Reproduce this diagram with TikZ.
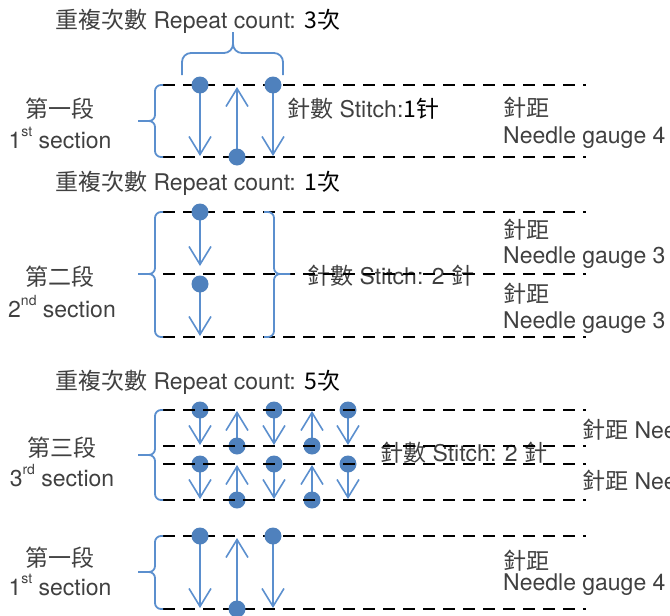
\documentclass[tikz,border=0pt]{standalone}
\usepackage{fontspec}
\setmainfont{TeX Gyre Heros}
\newfontfamily\cjk{Noto Sans CJK TC}
\usetikzlibrary{arrows.meta}
\definecolor{dotblue}{RGB}{79,129,189}
\definecolor{lineblue}{RGB}{91,143,206}
\definecolor{txt}{RGB}{64,64,64}
\newcommand\mysups[1]{\raisebox{0.5em}{\fontsize{14}{14}\selectfont #1}}
\begin{document}
\begin{tikzpicture}[x=1pt,y=-1pt,
  dl/.style={black,line width=2pt,dash pattern=on 12pt off 8pt},
  br/.style={lineblue,line width=1.8pt,rounded corners=6pt},
  arr/.style={lineblue,line width=1.6pt,-{Straight Barb[length=18pt,width=22pt,line width=1.6pt]}},
  dot/.style={circle,fill=dotblue,inner sep=0pt,minimum size=17pt},
  lbl/.style={text=txt,inner sep=0pt,font=\fontsize{23}{27}\selectfont},
]
\useasboundingbox (0,0) rectangle (670,616);
\clip (0,0) rectangle (670,616);

% ---------- section 1 ----------
\node[lbl,anchor=base west] (t1) at (55,28) {{\cjk 重複次數} Repeat count: {\cjk\color{black}3次}};
\draw[br,rounded corners=9pt] (182,75) -- (182,53) -- (233,53) -- (233,32);
\draw[br,rounded corners=9pt] (283,75) -- (283,53) -- (233,53) -- (233,32);
\draw[dl] (163,85) -- (586,85);
\draw[dl] (163,157) -- (586,157);
\draw[br] (163,85) -- (155,85) -- (155,121) -- (138,121);
\draw[br] (163,157) -- (155,157) -- (155,121) -- (138,121);
\node[lbl,anchor=base] (s1a) at (60,117) {\cjk 第一段};
\node[lbl,anchor=base] (s1b) at (60,148) {1\mysups{st} section};
\coordinate (a1e) at (200,156);
\coordinate (a2e) at (237,87);
\coordinate (a3e) at (273,156);
\draw[arr] (200,85) -- (a1e);
\draw[arr] (237,157) -- (a2e);
\draw[arr] (273,85) -- (a3e);
\node[dot] (a1) at (200,85) {};
\node[dot] (a2) at (237,157) {};
\node[dot] (a3) at (273,85) {};
\node[lbl,anchor=base west] (st1) at (287,117) {{\cjk 針數} Stitch:{\cjk\color{black}1针}};
\node[lbl,anchor=base west] (g1a) at (503,116) {\cjk 針距};
\node[lbl,anchor=base west] (g1b) at (503,143) {Needle gauge 4};

% ---------- section 2 ----------
\node[lbl,anchor=base west] (t2) at (55,190) {{\cjk 重複次數} Repeat count: {\cjk\color{black}1次}};
\node[lbl,anchor=base west] (st2) at (307,284) {{\cjk 針數} Stitch: 2 {\cjk 針}};
\draw[dl] (163,212) -- (586,212);
\draw[dl] (163,274) -- (586,274);
\draw[dl] (163,337) -- (586,337);
\draw[br] (163,212) -- (155,212) -- (155,274) -- (138,274);
\draw[br] (163,337) -- (155,337) -- (155,274) -- (138,274);
\draw[br] (264,212) -- (274,212) -- (274,274) -- (290,274);
\draw[br] (264,337) -- (274,337) -- (274,274) -- (290,274);
\node[lbl,anchor=base] (s2a) at (60,285) {\cjk 第二段};
\node[lbl,anchor=base] (s2b) at (62,317) {2\mysups{nd} section};
\coordinate (b1e) at (200,266);
\coordinate (b2e) at (200,336);
\draw[arr] (200,212) -- (b1e);
\draw[arr] (200,284) -- (b2e);
\node[dot] (b1) at (200,212) {};
\node[dot] (b2) at (200,284) {};
\node[lbl,anchor=base west] (g2a) at (503,238) {\cjk 針距};
\node[lbl,anchor=base west] (g2b) at (503,263) {Needle gauge 3};
\node[lbl,anchor=base west] (g2c) at (503,302) {\cjk 針距};
\node[lbl,anchor=base west] (g2d) at (503,328) {Needle gauge 3};

% ---------- section 3 ----------
\node[lbl,anchor=base west] (t3) at (55,389) {{\cjk 重複次數} Repeat count: {\cjk\color{black}5次}};
\node[lbl,anchor=base west] (st3) at (380,461) {{\cjk 針數} Stitch: 2 {\cjk 針}};
\foreach \r/\yt/\yb in {0/410/446,1/464/500}{
  \foreach \x in {200,274,348}{
    \coordinate (cd\r\x) at (\x,\yb-1);
    \draw[arr] (\x,\yt) -- (cd\r\x);
    \node[dot] (dd\r\x) at (\x,\yt) {};
  }
  \foreach \x in {237,312}{
    \coordinate (cu\r\x) at (\x,\yt+1);
    \draw[arr] (\x,\yb) -- (cu\r\x);
    \node[dot] (du\r\x) at (\x,\yb) {};
  }
}
\draw[dl] (163,410) -- (586,410);
\draw[dl] (163,446) -- (586,446);
\draw[dl] (163,464) -- (586,464);
\draw[dl] (163,500) -- (586,500);
\draw[br] (163,410) -- (155,410) -- (155,455) -- (138,455);
\draw[br] (163,500) -- (155,500) -- (155,455) -- (138,455);
\node[lbl,anchor=base] (s3a) at (62,456) {\cjk 第三段};
\node[lbl,anchor=base] (s3b) at (62,486) {3\mysups{rd} section};
\node[lbl,anchor=base west] (g3a) at (582,438) {{\cjk 針距} Needle gauge 3};
\node[lbl,anchor=base west] (g3b) at (582,489) {{\cjk 針距} Needle gauge 3};

% ---------- section 4 ----------
\draw[dl] (163,536) -- (586,536);
\draw[dl] (163,609) -- (586,609);
\draw[br] (163,536) -- (155,536) -- (155,572) -- (138,572);
\draw[br] (163,609) -- (155,609) -- (155,572) -- (138,572);
\node[lbl,anchor=base] (s4a) at (60,566) {\cjk 第一段};
\node[lbl,anchor=base] (s4b) at (60,595) {1\mysups{st} section};
\coordinate (d1e) at (200,608);
\coordinate (d2e) at (237,538);
\coordinate (d3e) at (273,608);
\draw[arr] (200,536) -- (d1e);
\draw[arr] (237,609) -- (d2e);
\draw[arr] (273,536) -- (d3e);
\node[dot] (d1) at (200,536) {};
\node[dot] (d2) at (237,609) {};
\node[dot] (d3) at (273,536) {};
\node[lbl,anchor=base west] (g4a) at (503,569) {\cjk 針距};
\node[lbl,anchor=base west] (g4b) at (503,590) {Needle gauge 4};
\end{tikzpicture}
\end{document}
